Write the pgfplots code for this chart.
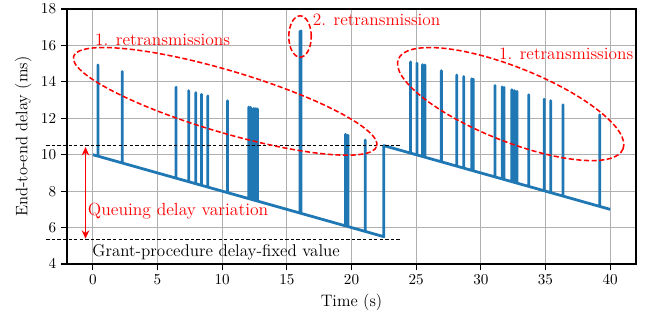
\documentclass[border=0pt]{standalone}
\usepackage{pgfplots}
\pgfplotsset{compat=1.18}
\usetikzlibrary{arrows.meta}
\definecolor{tabblue}{HTML}{1F77B4}
\definecolor{gridgray}{RGB}{176,176,176}
\begin{document}
\begin{tikzpicture}
\begin{axis}[
  scale only axis, width=409.68bp, height=183.6bp,
  xmin=-2, xmax=42, ymin=4, ymax=18,
  xtick={0,5,...,40}, ytick={4,6,...,18},
  tick pos=left, tick align=outside,
  major tick length=4.3bp,
  grid=major, grid style={color=gridgray, line width=0.8bp},
  axis line style={line width=1bp},
  every tick/.style={black, line width=0.8bp},
  tick label style={font=\fontsize{11}{13}\selectfont},
  label style={font=\fontsize{12}{14}\selectfont},
  xlabel={Time (s)}, ylabel={End-to-end delay (ms)},
  clip=false,
]
\addplot[tabblue, line width=2bp, line join=round] coordinates {
(0,10.0)
(0.39,9.922) (0.39,14.93) (0.39,9.922)
(2.27,9.546) (2.27,14.57) (2.27,9.546)
(6.43,8.714) (6.43,13.71) (6.43,8.714)
(7.41,8.518) (7.41,13.52) (7.41,8.518)
(7.96,8.408) (7.96,13.41) (7.96,8.408)
(8.40,8.320) (8.40,13.32) (8.40,8.320)
(8.89,8.222) (8.89,13.23) (8.89,8.222)
(10.41,7.918) (10.41,12.96) (10.41,7.918)
(12.05,7.590) (12.05,12.62) (12.05,7.590)
(12.20,7.560) (12.20,12.60) (12.20,7.560)
(12.45,7.510) (12.45,12.55) (12.45,7.510)
(12.60,7.480) (12.60,12.53) (12.60,7.480)
(12.72,7.456) (12.72,12.52) (12.72,7.456)
(16.02,6.796) (16.02,16.78) (16.02,6.796)
(16.10,6.780) (16.10,16.80) (16.10,6.780)
(19.53,6.094) (19.53,11.12) (19.53,6.094)
(19.72,6.056) (19.72,11.08) (19.72,6.056)
(21.06,5.788) (21.06,10.81) (21.06,5.788)
(22.50,5.50) (22.50,10.50)
(24.57,10.086) (24.57,15.10) (24.57,10.086)
(25.06,9.988) (25.06,15.03) (25.06,9.988)
(25.50,9.900) (25.50,14.95) (25.50,9.900)
(25.68,9.864) (25.68,14.93) (25.68,9.864)
(26.95,9.610) (26.95,14.62) (26.95,9.610)
(28.14,9.372) (28.14,14.38) (28.14,9.372)
(28.68,9.264) (28.68,14.29) (28.68,9.264)
(29.30,9.140) (29.30,14.17) (29.30,9.140)
(29.42,9.116) (29.42,14.15) (29.42,9.116)
(31.10,8.780) (31.10,13.80) (31.10,8.780)
(31.65,8.670) (31.65,13.72) (31.65,8.670)
(31.80,8.640) (31.80,13.70) (31.80,8.640)
(32.40,8.520) (32.40,13.57) (32.40,8.520)
(32.60,8.480) (32.60,13.52) (32.60,8.480)
(32.80,8.440) (32.80,13.48) (32.80,8.440)
(33.70,8.260) (33.70,13.29) (33.70,8.260)
(34.90,8.020) (34.90,13.05) (34.90,8.020)
(35.40,7.920) (35.40,12.97) (35.40,7.920)
(36.36,7.728) (36.36,12.74) (36.36,7.728)
(39.20,7.160) (39.20,12.19) (39.20,7.160)
(40,7.0)
};
\addplot[black, line width=0.65bp, dash pattern=on 2.4bp off 1.6bp] coordinates {(-3.6,10.5) (23.8,10.5)};
\addplot[black, line width=0.65bp, dash pattern=on 2.4bp off 1.6bp] coordinates {(-3.6,5.37) (23.8,5.37)};
\draw[red, line width=1.3bp, {Stealth[length=6bp,width=5.5bp]}-{Stealth[length=6bp,width=5.5bp]}] (axis cs:-0.57,10.42) -- (axis cs:-0.57,5.39);
\node[red, anchor=base west, inner sep=0pt, font=\fontsize{12.7}{14}\selectfont] at (axis cs:-0.40,6.65) {Queuing delay variation};
\node[black, anchor=base west, inner sep=0pt, font=\fontsize{12.3}{14}\selectfont] at (axis cs:-0.05,4.40) {Grant-procedure delay-fixed value};
\node[red, anchor=base west, inner sep=0pt, font=\fontsize{12.6}{14}\selectfont] at (axis cs:0.15,16.0) {1. retransmissions};
\node[red, anchor=base west, inner sep=0pt, font=\fontsize{12.5}{14}\selectfont] at (axis cs:17.0,17.08) {2. retransmission};
\node[red, anchor=base west, inner sep=0pt, font=\fontsize{12.5}{14}\selectfont] at (axis cs:31.4,15.25) {1. retransmissions};
\coordinate (e1) at (axis cs:10.23,12.93);
\coordinate (e2) at (axis cs:16.02,16.49);
\coordinate (e3) at (axis cs:32.31,12.78);
\end{axis}
\tikzset{ell/.style={red, line width=1.1bp, dash pattern=on 3.7bp off 1.8bp}}
\draw[ell, rotate around={-16.5:(e1)}] (e1) ellipse [x radius=113.8bp, y radius=22.3bp];
\draw[ell] (e2) ellipse [x radius=8.1bp, y radius=14.9bp];
\draw[ell, rotate around={-21.8:(e3)}] (e3) ellipse [x radius=87.1bp, y radius=26.6bp];
\pgfresetboundingbox
\path[use as bounding box] ([shift={(-48.24bp,-43.2bp)}]current axis.south west) rectangle ([shift={(10.8bp,6.48bp)}]current axis.north east);
\end{tikzpicture}
\end{document}
